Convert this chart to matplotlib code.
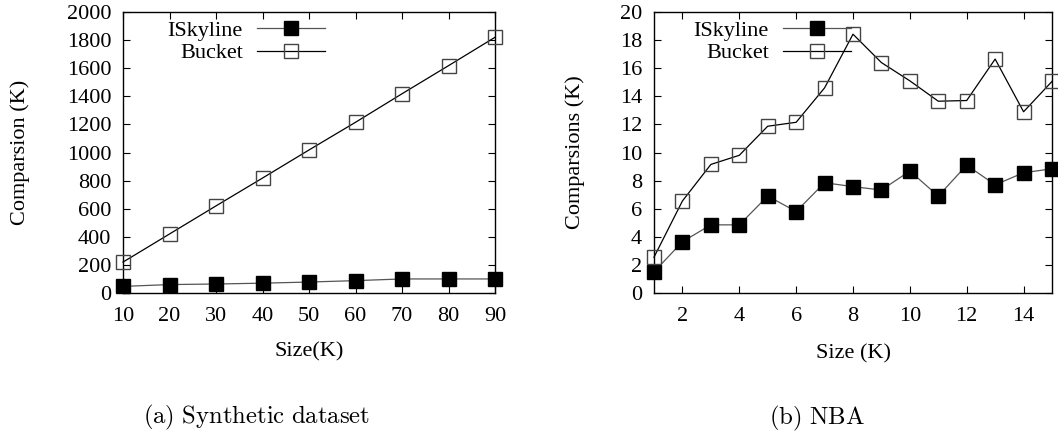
import matplotlib
matplotlib.use("Agg")
import matplotlib.pyplot as plt

plt.rcParams["font.family"] = ["Liberation Serif", "DejaVu Serif"]
plt.rcParams["mathtext.fontset"] = "cm"

# (a) synthetic dataset
syn_size = [10, 20, 30, 40, 50, 60, 70, 80, 90]
syn_iskyline = [47, 60, 64, 70, 78, 88, 100, 100, 100]
syn_bucket = [220, 420, 620, 818, 1018, 1215, 1418, 1618, 1820]

# (b) NBA
nba_size = list(range(1, 16))
nba_iskyline = [1.5, 3.65, 4.85, 4.85, 6.9, 5.8, 7.85, 7.57, 7.33, 8.68, 6.9, 9.1, 7.7, 8.56, 8.84]
nba_bucket = [2.55, 6.55, 9.15, 9.8, 11.87, 12.15, 14.6, 18.42, 16.4, 15.1, 13.65, 13.7, 16.65, 12.9, 15.06]

FS = 16
W, H = 1058, 434

fig = plt.figure(figsize=(W / 100, H / 100), dpi=100)
ax1 = fig.add_axes([123 / W, 1 - 293 / H, 372 / W, 281 / H])
ax2 = fig.add_axes([654 / W, 1 - 293 / H, 398 / W, 281 / H])


def draw(ax, x, y1, y2, leg_x):
    ax.plot(x, y1, color="#555555", lw=0.9, marker="s", ms=10.5, mfc="black", mec="black",
            label="ISkyline", clip_on=False, zorder=3)
    ax.plot(x, y2, color="black", lw=0.9, marker="s", ms=10.5, mfc="none", mec="#444444",
            mew=1.0, label="Bucket", clip_on=False, zorder=3)
    ax.tick_params(direction="in", top=True, right=True, length=5, width=0.8,
                   labelsize=FS)
    ax.tick_params(axis="y", pad=8.5)
    ax.tick_params(axis="x", pad=10)
    for s in ax.spines.values():
        s.set_linewidth(1.0)
    leg = ax.legend(loc="upper right", bbox_to_anchor=(leg_x, 0.97),
                    markerfirst=False, frameon=False, fontsize=FS, borderpad=0,
                    borderaxespad=0, labelspacing=0.08, handlelength=3.05,
                    handletextpad=0.65, numpoints=1)
    return leg


draw(ax1, syn_size, syn_iskyline, syn_bucket, 0.543)
ax1.set_xlim(10, 90)
ax1.set_ylim(0, 2000)
ax1.set_xticks(syn_size)
ax1.set_yticks(range(0, 2001, 200))
ax1.set_xlabel("Size(K)", fontsize=FS, va="center")
ax1.set_ylabel("Comparsion (K)", fontsize=FS, va="center")
ax1.xaxis.set_label_coords(0.5, (293 - 352) / 281)
ax1.yaxis.set_label_coords((20 - 123) / 372, 0.5)

draw(ax2, nba_size, nba_iskyline, nba_bucket, 0.495)
ax2.set_xlim(1, 15)
ax2.set_ylim(0, 20)
ax2.set_xticks(range(2, 15, 2))
ax2.set_yticks(range(0, 21, 2))
ax2.set_xlabel("Size (K)", fontsize=FS, va="center")
ax2.set_ylabel("Comparsions (K)", fontsize=FS, va="center")
ax2.xaxis.set_label_coords(0.5, (293 - 354) / 281)
ax2.yaxis.set_label_coords((575 - 654) / 398, 0.5)

fig.text(257 / W, 1 - 417 / H, r"$\mathrm{(a)\ Synthetic\ dataset}$", fontsize=17.8,
         ha="center", va="center")
fig.text(817 / W, 1 - 418 / H, r"$\mathrm{(b)\ NBA}$", fontsize=17.8,
         ha="center", va="center")

fig.savefig("out.png", dpi=100)
